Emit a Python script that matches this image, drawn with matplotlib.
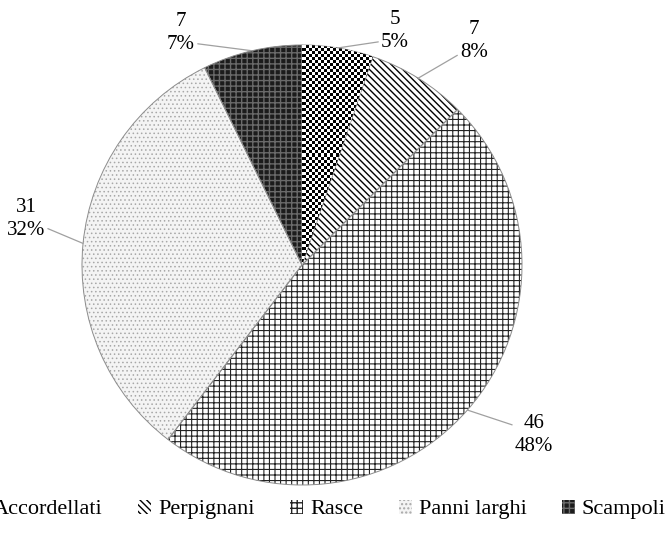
import numpy as np
import matplotlib
matplotlib.use("Agg")
import matplotlib.pyplot as plt

plt.rcParams['font.family'] = ['Liberation Serif', 'DejaVu Serif']

categories = ['Accordellati', 'Perpignani', 'Rasce', 'Panni larghi', 'Scampoli']
values = [5, 7, 46, 31, 7]
pct_labels = ['5%', '8%', '48%', '32%', '7%']

# styling per slice (Accordellati gets a checker texture below)
faces = ['#8a8a8a', 'white', 'white', '#f4f4f4', '#1c1c1c']
hatch_cols = ['#8a8a8a', 'black', '#222222', '#a8a8a8', '#6a6a6a']
hatches = ['', '\\\\\\\\\\', '+++', '....', '+++']
hatch_lw = [1.0, 1.0, 0.8, 0.6, 1.0]

# label layout (data units, pie radius = 1) and leader anchor on text box
label_pos = [(0.423, 1.064), (0.782, 1.018), (1.055, -0.773), (-1.255, 0.209), (-0.55, 1.055)]
label_rel = [(0.0, 0.25), (0.0, 0.2), (0.0, 0.72), (1.0, 0.3), (1.0, 0.25)]

fig = plt.figure(figsize=(6.68, 5.33), dpi=100)
ax = fig.add_axes([0, 0, 1, 1])

wedges, _ = ax.pie(values, startangle=90, counterclock=False, radius=1.0,
                   wedgeprops=dict(linewidth=0))
for w, fc, hc, h, lw in zip(wedges, faces, hatch_cols, hatches, hatch_lw):
    w.set_facecolor(fc)
    w.set_edgecolor(hc)
    if h:
        w.set_hatch(h)
    if hasattr(w, 'set_hatch_linewidth'):
        w.set_hatch_linewidth(lw)

# checkerboard texture clipped to the first slice
n = 146
ii, jj = np.indices((n, n))
checker = (ii + jj) % 2
im = ax.imshow(checker, cmap='gray', vmin=0, vmax=1, extent=(-1, 1, -1, 1),
               interpolation='nearest', zorder=wedges[0].get_zorder() + 0.1)
im.set_clip_path(wedges[0])

# thin grey outlines
ax.pie(values, startangle=90, counterclock=False, radius=1.0,
       wedgeprops=dict(fill=False, edgecolor='#8c8c8c', linewidth=0.7))

# data labels with leader lines at slice mid-angles
total = sum(values)
cum = np.cumsum([0] + values)
for i, v in enumerate(values):
    mid = (cum[i] + v / 2) / total * 2 * np.pi
    edge = (np.sin(mid), np.cos(mid))
    ax.annotate(f"{v}\n{pct_labels[i]}", xy=edge, xytext=label_pos[i],
                ha='center', va='center', fontsize=15, linespacing=1.3,
                arrowprops=dict(arrowstyle='-', color='#a0a0a0', lw=0.9,
                                shrinkA=0, shrinkB=0, relpos=label_rel[i]))

ax.set_xlim(-302 / 220, 366 / 220)
ax.set_ylim((265 - 533) / 220, 265 / 220)
ax.set_aspect('auto')
ax.axis('off')

leg = fig.legend(wedges, categories, loc='center', bbox_to_anchor=(0.478, 0.044),
                 ncol=5, frameon=False, fontsize=16, handlelength=0.6, handleheight=0.6,
                 handletextpad=0.3, columnspacing=1.6)

fig.savefig('out.png', dpi=100)
